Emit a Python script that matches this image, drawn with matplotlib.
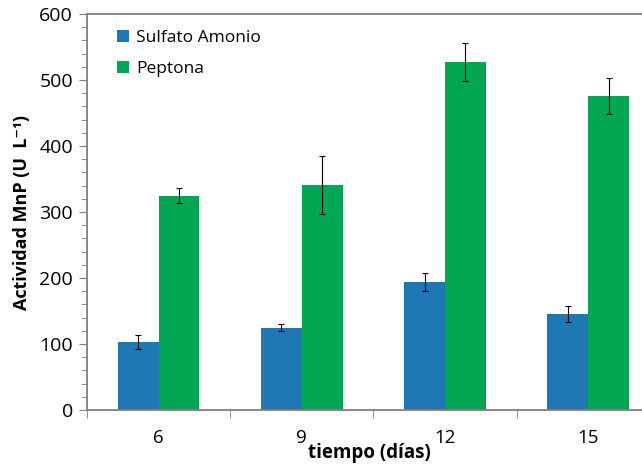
import numpy as np
import matplotlib.pyplot as plt
from matplotlib.ticker import MultipleLocator, FixedLocator

dias = ['6', '9', '12', '15']
sulfato = [103, 125, 194, 145]
sulfato_err = [10, 5, 14, 12]
peptona = [325, 341, 527, 476]
peptona_err = [12, 44, 29, 27]

plt.rcParams['font.family'] = ['Open Sans', 'DejaVu Sans']

fig = plt.figure(figsize=(6.42, 4.67), dpi=100)
ax = fig.add_axes([0.1355, 0.122, 0.879, 0.848])

x = np.arange(len(dias))
w = 0.285
ekw = dict(ecolor='black', elinewidth=0.8, capsize=2.5, capthick=0.8)
ax.bar(x - w / 2, sulfato, w, yerr=sulfato_err, color='#1f78b4',
       label='Sulfato Amonio', error_kw=ekw)
ax.bar(x + w / 2, peptona, w, yerr=peptona_err, color='#00a651',
       label='Peptona', error_kw=ekw)

ax.set_ylim(0, 600)
ax.set_xlim(-0.5, 3.44)
ax.yaxis.set_major_locator(MultipleLocator(100))
ax.yaxis.set_minor_locator(MultipleLocator(20))
ax.set_xticks(x)
ax.set_xticklabels(dias)
ax.xaxis.set_minor_locator(FixedLocator([-0.5, 0.5, 1.5, 2.5]))

for s in ['top', 'left', 'bottom']:
    ax.spines[s].set_color('#7f7f7f')
    ax.spines[s].set_linewidth(1.3)
ax.spines['right'].set_visible(False)

ax.tick_params(axis='y', which='major', length=6, color='#7f7f7f', labelsize=14, pad=4)
ax.tick_params(axis='y', which='minor', length=4, color='#7f7f7f')
ax.tick_params(axis='x', which='major', length=0, labelsize=13.5, pad=14)
ax.tick_params(axis='x', which='minor', length=6, color='#7f7f7f')

ax.set_xlabel('tiempo (días)', fontsize=13.5, fontweight='bold', labelpad=-3)
ax.set_ylabel('Actividad MnP (U  L\u207b\u00b9)', fontsize=13, fontweight='bold', labelpad=6)

ax.legend(loc='upper left', frameon=False, fontsize=12.5, handlelength=0.7,
          handleheight=0.7, handletextpad=0.4, labelspacing=0.85,
          bbox_to_anchor=(0.025, 1.0))

fig.savefig('out.png', dpi=100)
